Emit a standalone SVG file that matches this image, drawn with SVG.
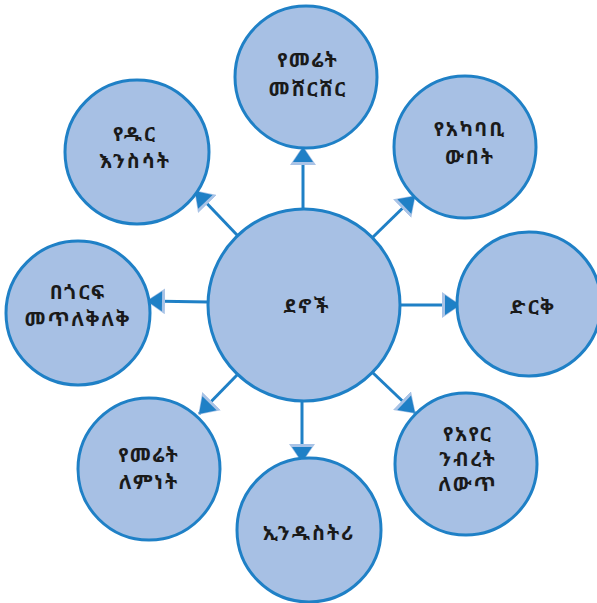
<svg xmlns="http://www.w3.org/2000/svg" width="597" height="603" viewBox="0 0 597 603">
<defs>
<style>
.node circle{fill:#a7c0e4;stroke:#1f80c6;stroke-width:3}
.node text{font-family:"Noto Sans Ethiopic","Abyssinica SIL","Noto Serif Ethiopic","Noto Sans","DejaVu Sans",sans-serif;font-size:20px;font-weight:bold;fill:#1a1a1a;text-anchor:middle;letter-spacing:2px}
.conn line{stroke:#1f80c6;stroke-width:3}
</style>
<marker id="arr" viewBox="0 0 20 26" refX="18" refY="13" markerWidth="20" markerHeight="26" markerUnits="userSpaceOnUse" orient="auto">
<path d="M0,0 L19,13 L0,26 Z" fill="#a9c3e6"/>
<path d="M3,3 L18,13 L3,23 Z" fill="#1f80c6"/>
</marker>
</defs>
<g id="connectors" class="conn">
<line x1="303" y1="209" x2="303" y2="147" marker-end="url(#arr)"/>
<line x1="372" y1="238" x2="415" y2="196" marker-end="url(#arr)"/>
<line x1="400" y1="305" x2="460" y2="305" marker-end="url(#arr)"/>
<line x1="372" y1="372" x2="415" y2="413" marker-end="url(#arr)"/>
<line x1="302" y1="401" x2="302" y2="462" marker-end="url(#arr)"/>
<line x1="238" y1="374" x2="199" y2="414" marker-end="url(#arr)"/>
<line x1="208" y1="302" x2="147" y2="301" marker-end="url(#arr)"/>
<line x1="238" y1="236" x2="195" y2="191" marker-end="url(#arr)"/>
</g>
<g id="center" class="node"><circle cx="304" cy="305" r="96"/><text x="307" y="313">ደኖች</text></g>
<g id="top" class="node"><circle cx="306" cy="77" r="71"/><text x="308" y="67">የመሬት</text><text x="308" y="96">መሸርሸር</text></g>
<g id="upper-right" class="node"><circle cx="465" cy="147" r="71"/><text x="470" y="136">የአካባቢ</text><text x="470" y="164">ውበት</text></g>
<g id="right" class="node"><circle cx="529" cy="304" r="72"/><text x="533" y="314">ድርቅ</text></g>
<g id="lower-right" class="node"><circle cx="466" cy="464" r="71"/><text x="468" y="441">የአየር</text><text x="468" y="466">ንብረት</text><text x="468" y="491">ለውጥ</text></g>
<g id="bottom" class="node"><circle cx="309" cy="530" r="72"/><text x="309" y="540">ኢንዱስትሪ</text></g>
<g id="lower-left" class="node"><circle cx="149" cy="469" r="71"/><text x="149" y="462">የመሬት</text><text x="149" y="489">ለምነት</text></g>
<g id="left" class="node"><circle cx="78" cy="313" r="72"/><text x="78" y="299">በጎርፍ</text><text x="78" y="326">መጥለቅለቅ</text></g>
<g id="upper-left" class="node"><circle cx="137" cy="152" r="72"/><text x="135" y="141">የዱር</text><text x="135" y="168">እንስሳት</text></g>
</svg>
